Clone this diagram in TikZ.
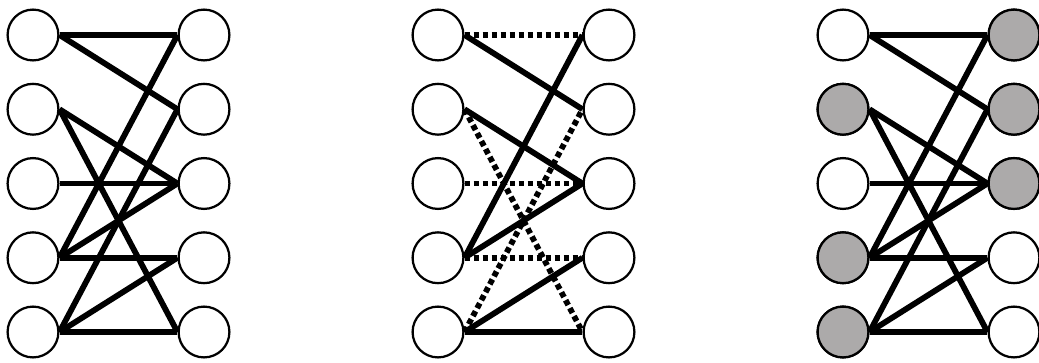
\documentclass[tikz,border=0pt]{standalone}
\usepackage{tikz}

\definecolor{nodegray}{RGB}{172,170,170}

\begin{document}
\begin{tikzpicture}[x=0.025cm, y=-0.025cm,
  vertex/.style={draw, circle, fill=white, inner sep=0pt, minimum size=1.27cm, line width=1.6pt},
  edge/.style={line width=4.1pt},
  dotedge/.style={line width=4.1pt, dash pattern=on 0.1375cm off 0.0875cm}]
\useasboundingbox (0,0) rectangle (1039,362);

% Vertices (left and right columns)
\foreach \g/\x in {a/33, b/438, c/843} {
  \foreach \i/\y in {1/35, 2/109.25, 3/183.5, 4/257.75, 5/332} {
    \node[vertex] (\g l\i) at (\x,\y) {};
    \node[vertex] (\g r\i) at (\x+171,\y) {};
  }
}

% Shaded vertices of the third graph
\foreach \v in {cl2, cl4, cl5, cr1, cr2, cr3}
  \node[vertex, fill=nodegray] at (\v) {};

% Edges of the first and third graph
\foreach \g in {a, c} {
  \foreach \i/\j in {1/1, 1/2, 2/3, 2/5, 3/3, 4/1, 4/3, 4/4, 5/2, 5/4, 5/5}
    \draw[edge] (\g l\i.east) -- (\g r\j.west);
}

% Second graph: solid and dotted edges
\foreach \i/\j in {1/2, 2/3, 4/1, 4/3, 5/4, 5/5}
  \draw[edge] (bl\i.east) -- (br\j.west);
\foreach \i/\j in {1/1, 2/5, 3/3, 4/4, 5/2}
  \draw[dotedge] (bl\i.east) -- (br\j.west);

\end{tikzpicture}
\end{document}
